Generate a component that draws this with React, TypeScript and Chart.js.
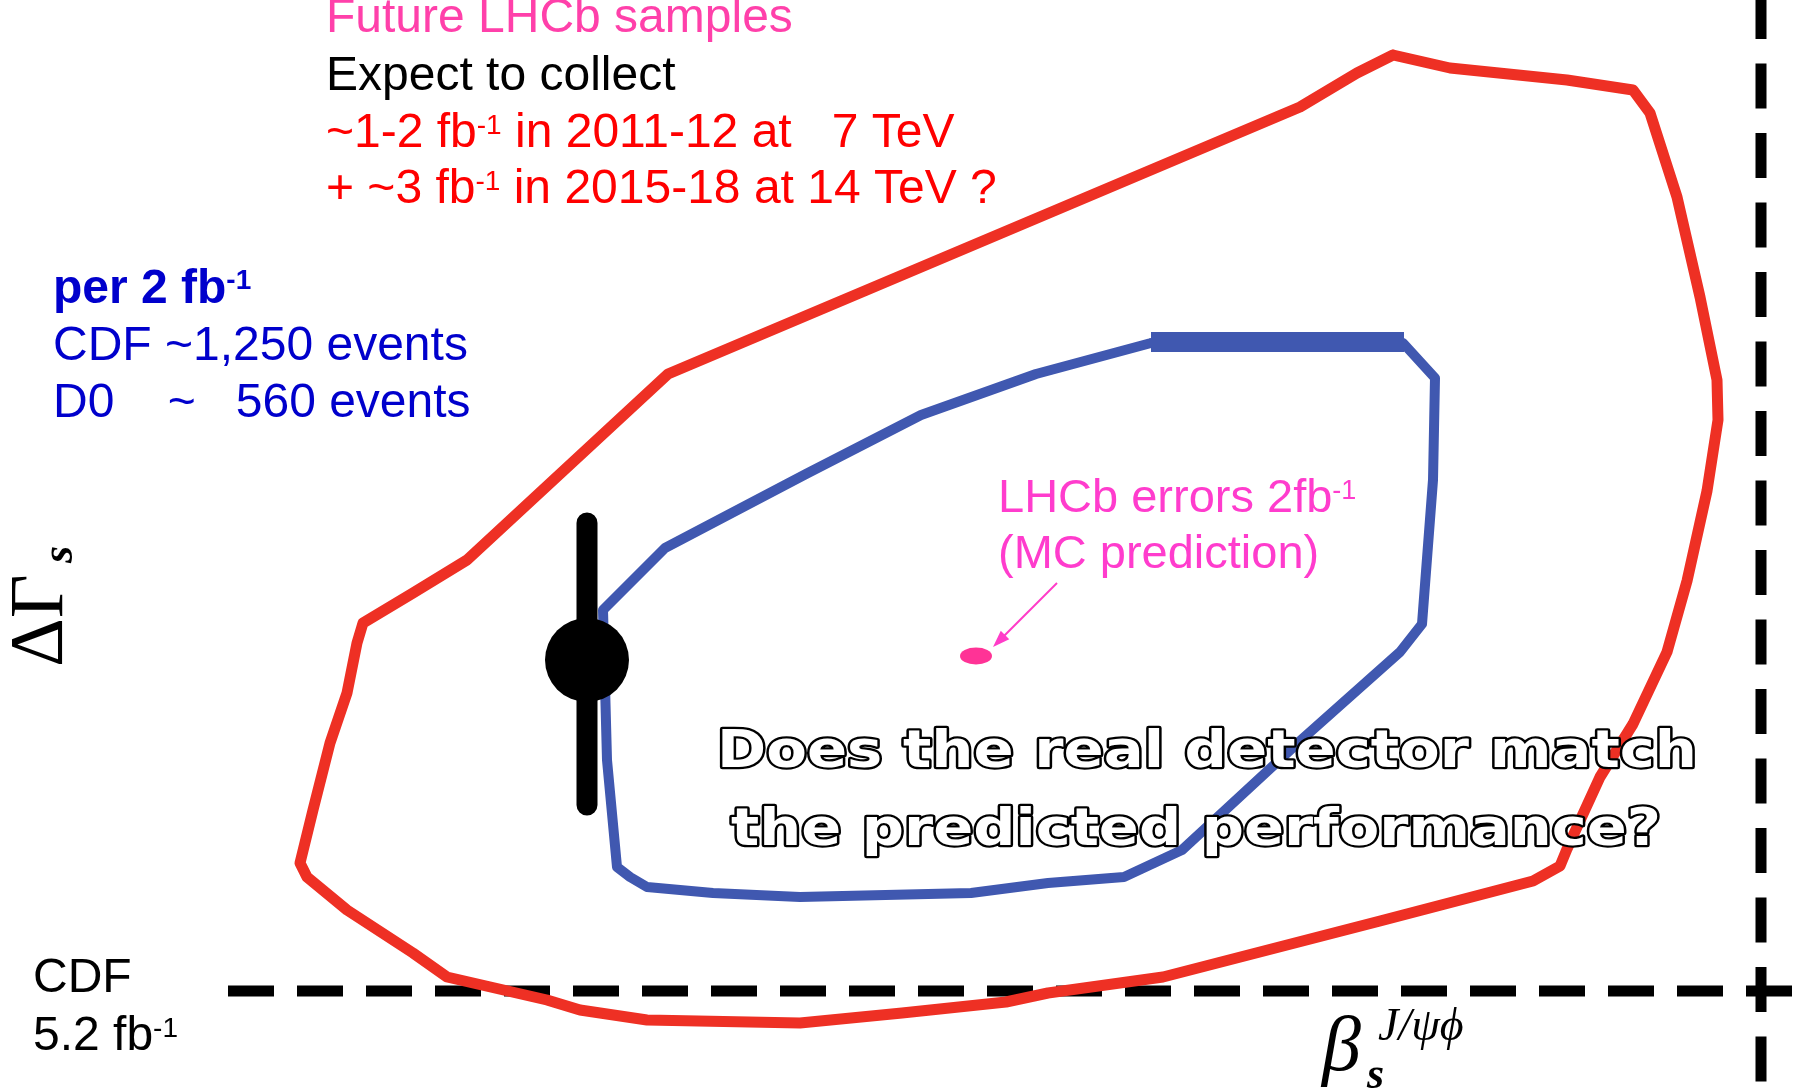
import React, { useEffect, useRef } from "react";
import { Chart, registerables } from "chart.js";

Chart.register(...registerables);

// Plot units: x grows with beta_s, y grows with DeltaGamma_s (plane spans 0..1805 x 0..1089).
const X_RANGE = [0, 1805];
const Y_RANGE = [0, 1089];

// CDF 5.2 fb^-1 confidence contours (outer = 95% CL, inner = 68% CL)
const contour95: [number, number][] = [
  [1393, 1034], [1450, 1021], [1567, 1009], [1633, 999], [1650, 976], [1677, 892],
  [1700, 792], [1717, 709], [1718, 669], [1707, 598], [1687, 508], [1667, 437],
  [1633, 365], [1600, 312], [1567, 240], [1560, 223], [1533, 208], [1380, 168],
  [1163, 112], [1048, 96], [1006, 87], [902, 76], [800, 66], [647, 69], [580, 79],
  [547, 89], [447, 112], [413, 136], [347, 179], [307, 212], [300, 226], [313, 279],
  [330, 346], [347, 396], [357, 446], [363, 466], [413, 496], [467, 529], [668, 715],
  [1300, 982], [1357, 1016], [1393, 1034],
];

const contour68: [number, number][] = [
  [1151, 746], [1403, 746], [1435, 711], [1433, 609], [1422, 465], [1400, 437],
  [1300, 348], [1182, 239], [1124, 212], [1048, 206], [971, 196], [800, 192],
  [713, 196], [647, 202], [630, 212], [617, 222], [607, 329], [603, 479], [665, 541],
  [806, 615], [921, 674], [1036, 715], [1151, 746],
];

// heavier top edge of the 68% contour
const contour68Ridge: [number, number][] = [[1151, 747], [1404, 747]];

// D0 measurement with its vertical error bar
const d0Point: [number, number] = [587, 429];
const d0ErrorBar: [number, number][] = [[587, 566], [587, 284]];

// LHCb MC expectation for 2 fb^-1 and the arrow tail pointing at it
const lhcbPrediction: [number, number] = [976, 433];
const lhcbArrowTail: [number, number] = [1057, 506];

// Standard-model reference lines
const smDeltaGammaLine: [number, number][] = [[228, 98], [1792, 98]];
const smBetaLine: [number, number][] = [[1761, 1095], [1761, -5]];

const toXY = (pts: [number, number][]) => pts.map(([x, y]) => ({ x, y }));

const SANS = '"Liberation Sans", Arial, Helvetica, sans-serif';
const SERIF = '"Liberation Serif", "Times New Roman", serif';

type Seg = { t: string; sup?: boolean };

function drawRich(
  ctx: CanvasRenderingContext2D,
  x: number,
  y: number,
  segs: Seg[],
  font: string,
  supFont: string,
  color: string,
  supRaise: number
) {
  ctx.fillStyle = color;
  ctx.textAlign = "left";
  ctx.textBaseline = "alphabetic";
  let cx = x;
  for (const s of segs) {
    ctx.font = s.sup ? supFont : font;
    ctx.fillText(s.t, cx, s.sup ? y - supRaise : y);
    cx += ctx.measureText(s.t).width;
  }
}

function drawOutlined(
  ctx: CanvasRenderingContext2D,
  text: string,
  x: number,
  y: number,
  width: number
) {
  ctx.save();
  ctx.font = `bold 52px "DejaVu Sans", Verdana, sans-serif`;
  ctx.textAlign = "left";
  ctx.textBaseline = "alphabetic";
  const w = ctx.measureText(text).width;
  ctx.translate(x, y);
  ctx.scale(width / w, 1);
  ctx.lineJoin = "round";
  ctx.lineWidth = 4.5;
  ctx.strokeStyle = "#000000";
  ctx.strokeText(text, 0, 0);
  ctx.fillStyle = "#ffffff";
  ctx.fillText(text, 0, 0);
  ctx.restore();
}

const slideText = {
  id: "slideText",
  afterDatasetsDraw(chart: any) {
    const ctx: CanvasRenderingContext2D = chart.ctx;
    const xs = chart.scales.x;
    const ys = chart.scales.y;
    ctx.save();

    // LHCb prediction ellipse
    const px = xs.getPixelForValue(lhcbPrediction[0]);
    const py = ys.getPixelForValue(lhcbPrediction[1]);
    ctx.fillStyle = "rgb(255, 51, 150)";
    ctx.beginPath();
    ctx.ellipse(px, py, 16, 8.5, 0, 0, Math.PI * 2);
    ctx.fill();

    // arrow towards it
    const tx = xs.getPixelForValue(lhcbArrowTail[0]);
    const ty = ys.getPixelForValue(lhcbArrowTail[1]);
    const hx = px + 17;
    const hy = py - 9;
    const ang = Math.atan2(hy - ty, hx - tx);
    ctx.strokeStyle = "rgb(255, 60, 200)";
    ctx.fillStyle = "rgb(255, 60, 200)";
    ctx.lineWidth = 2;
    ctx.beginPath();
    ctx.moveTo(tx, ty);
    ctx.lineTo(hx - 12 * Math.cos(ang), hy - 12 * Math.sin(ang));
    ctx.stroke();
    ctx.beginPath();
    ctx.moveTo(hx, hy);
    ctx.lineTo(hx - 17 * Math.cos(ang) + 6 * Math.sin(ang), hy - 17 * Math.sin(ang) - 6 * Math.cos(ang));
    ctx.lineTo(hx - 17 * Math.cos(ang) - 6 * Math.sin(ang), hy - 17 * Math.sin(ang) + 6 * Math.cos(ang));
    ctx.closePath();
    ctx.fill();

    const f48 = `48px ${SANS}`;
    const s28 = `28px ${SANS}`;
    const red = "rgb(255, 0, 0)";
    const blue = "rgb(0, 0, 204)";
    const pink = "rgb(255, 64, 170)";
    const magenta = "rgb(255, 60, 205)";

    drawRich(ctx, 326, 32, [{ t: "Future LHCb samples" }], f48, s28, pink, 13);
    drawRich(ctx, 326, 90, [{ t: "Expect to collect" }], f48, s28, "#000000", 13);
    drawRich(ctx, 326, 147, [{ t: "~1-2 fb" }, { t: "-1", sup: true }, { t: " in 2011-12 at   7 TeV" }], f48, s28, red, 13);
    drawRich(ctx, 326, 203, [{ t: "+ ~3 fb" }, { t: "-1", sup: true }, { t: " in 2015-18 at 14 TeV ?" }], f48, s28, red, 13);

    drawRich(ctx, 53, 303, [{ t: "per 2 fb" }, { t: "-1", sup: true }], `bold 48px ${SANS}`, `bold 28px ${SANS}`, blue, 14);
    drawRich(ctx, 53, 360, [{ t: "CDF ~1,250 events" }], f48, s28, blue, 13);
    drawRich(ctx, 53, 417, [{ t: "D0    ~   560 events" }], f48, s28, blue, 13);

    drawRich(ctx, 998, 512, [{ t: "LHCb errors 2fb" }, { t: "-1", sup: true }], `47px ${SANS}`, `27px ${SANS}`, magenta, 13);
    drawRich(ctx, 998, 568, [{ t: "(MC prediction)" }], `47px ${SANS}`, s28, magenta, 13);

    drawRich(ctx, 33, 992, [{ t: "CDF" }], f48, s28, "#000000", 13);
    drawRich(ctx, 33, 1050, [{ t: "5.2 fb" }, { t: "-1", sup: true }], f48, s28, "#000000", 13);

    drawOutlined(ctx, "Does the real detector match", 717, 767, 980);
    drawOutlined(ctx, "the predicted performance?", 731, 845, 930);

    // vertical axis title: Delta Gamma_s
    ctx.save();
    ctx.translate(62, 667);
    ctx.rotate(-Math.PI / 2);
    ctx.fillStyle = "#000000";
    ctx.textAlign = "left";
    ctx.textBaseline = "alphabetic";
    ctx.font = `76px ${SERIF}`;
    ctx.fillText("ΔΓ", 0, 0);
    ctx.font = `bold italic 44px ${SERIF}`;
    ctx.fillText("s", 104, 10);
    ctx.restore();

    // horizontal axis title: beta_s^{J/psi phi}
    ctx.fillStyle = "#000000";
    ctx.font = `italic 78px ${SERIF}`;
    ctx.fillText("β", 1322, 1070);
    ctx.font = `italic 46px ${SERIF}`;
    ctx.fillText("J/ψϕ", 1378, 1040);
    ctx.font = `bold italic 44px ${SERIF}`;
    ctx.fillText("s", 1367, 1088);

    ctx.restore();
  },
};

export default function App() {
  const canvasRef = useRef<HTMLCanvasElement | null>(null);

  useEffect(() => {
    const canvas = canvasRef.current;
    if (!canvas) return;
    const line = (
      pts: [number, number][],
      color: string,
      width: number,
      extra: Record<string, unknown> = {}
    ) => ({
      data: toXY(pts),
      showLine: true,
      borderColor: color,
      backgroundColor: color,
      borderWidth: width,
      pointRadius: 0,
      tension: 0,
      fill: false,
      borderJoinStyle: "round",
      borderCapStyle: "round",
      ...extra,
    });

    const chart = new Chart(canvas, {
      type: "scatter",
      data: {
        datasets: [
          {
            data: toXY([d0Point]),
            pointRadius: 42,
            pointBackgroundColor: "#000000",
            pointBorderWidth: 0,
            showLine: false,
          } as any,
          line(d0ErrorBar, "#000000", 21, { borderCapStyle: "butt" }),
          line(contour68Ridge, "rgb(64, 88, 176)", 20, { borderCapStyle: "butt" }),
          line(contour68, "rgb(64, 88, 176)", 10),
          line(contour95, "rgb(238, 48, 36)", 11),
          line(smDeltaGammaLine, "#000000", 11, { borderDash: [46, 23], borderCapStyle: "butt" }),
          line(smBetaLine, "#000000", 11, { borderDash: [45, 24.5], borderCapStyle: "butt" }),
        ] as any,
      },
      options: {
        responsive: false,
        animation: false,
        devicePixelRatio: 1,
        events: [],
        layout: { padding: 0, autoPadding: false },
        plugins: {
          legend: { display: false },
          tooltip: { enabled: false },
        },
        scales: {
          x: { type: "linear", min: X_RANGE[0], max: X_RANGE[1], display: false },
          y: { type: "linear", min: Y_RANGE[0], max: Y_RANGE[1], display: false },
        },
      },
      plugins: [slideText],
    });
    return () => chart.destroy();
  }, []);

  return (
    <div style={{ position: "fixed", left: 0, top: 0, width: 1805, height: 1089, background: "#ffffff" }}>
      <canvas ref={canvasRef} width={1805} height={1089} style={{ display: "block" }} />
    </div>
  );
}
